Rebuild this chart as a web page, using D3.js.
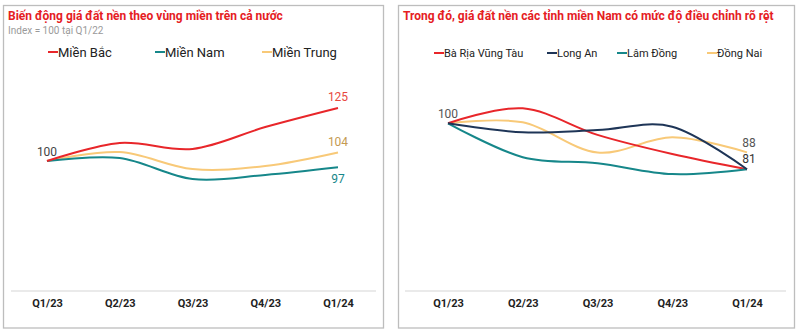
<!DOCTYPE html>
<html><head><meta charset="utf-8">
<script src="https://cdn.jsdelivr.net/npm/d3@7"></script>
<style>body{margin:0;background:#fff}svg{display:block;font-family:Roboto,"Noto Sans",sans-serif}</style>
</head><body><svg id="c" width="800" height="335"></svg>
<script>
const quarters = ["Q1/23","Q2/23","Q3/23","Q4/23","Q1/24"];
const leftSeriesNames = ["Miền Bắc","Miền Nam","Miền Trung"];
const mienBac   = [100, 108.5, 105.7, 116, 125];
const mienNam   = [100, 101.4, 91.5, 93.4, 97];
const mienTrung = [100, 104.2, 96.2, 97.6, 104];
const rightSeriesNames = ["Bà Rịa Vũng Tàu","Long An","Lâm Đồng","Đồng Nai"];
const baRiaVungTau = [100, 106.2, 95.2, 87.3, 81];
const longAn       = [100, 96.3, 97.2, 98.6, 81];
const lamDong      = [100, 86.0, 83.5, 79.0, 81];
const dongNai      = [100, 100.4, 87.9, 94.2, 88];
const leftTitle = "Biến động giá đất nền theo vùng miền trên cả nước";
const leftSubtitle = "Index = 100 tại Q1/22";
const rightTitle = "Trong đó, giá đất nền các tỉnh miền Nam có mức độ điều chỉnh rõ rệt";

const C = {red:"#e8262a", teal:"#16878a", yellow:"#f8c978", navy:"#1e3557"};
const svg = d3.select("#c");

function panel(x0, x1){
  svg.append("rect").attr("x",x0).attr("y",5.5).attr("width",x1-x0).attr("height",322.5)
    .attr("fill","#fff").attr("stroke","#bdbdbd").attr("stroke-width",1.3);
}
panel(3.5, 383.5);
panel(398.5, 794.5);

function drawChart(opt){
  const g = svg.append("g");
  const x = d3.scalePoint().domain(quarters).range(opt.xr);
  const y = d3.scaleLinear().domain(opt.yd).range(opt.yr);
  g.append("text").attr("x",opt.tx).attr("y",20).attr("fill","#e5201f")
    .attr("font-size",12).attr("font-weight",700).text(opt.title);
  if(opt.sub) g.append("text").attr("x",opt.tx).attr("y",34).attr("fill","#9a9a9a")
    .attr("font-size",10).text(opt.sub);
  opt.series.forEach((s,i)=>{
    const lx = opt.legX[i];
    g.append("line").attr("x1",lx).attr("x2",lx+10).attr("y1",opt.legY).attr("y2",opt.legY)
      .attr("stroke",s.color).attr("stroke-width",2);
    g.append("text").attr("x",lx+10).attr("y",opt.legY).attr("dy","0.35em")
      .attr("font-size",opt.legFs).attr("fill","#222").text(s.name);
  });
  g.append("line").attr("x1",opt.ax[0]).attr("x2",opt.ax[1]).attr("y1",291).attr("y2",291)
    .attr("stroke","#e3e3e3").attr("stroke-width",1.5);
  const axis = d3.axisBottom(x).tickSize(0).tickPadding(0);
  const ag = g.append("g").attr("transform","translate(0,299)").call(axis);
  ag.select(".domain").remove();
  ag.selectAll("text").attr("font-size",11).attr("font-weight",700).attr("fill","#222")
    .attr("font-family","Roboto, sans-serif").attr("dy","0.71em");
  const line = d3.line().x((d,i)=>x(quarters[i])).y(d=>y(d)).curve(d3.curveCardinal.tension(0));
  opt.drawOrder.forEach(i=>{
    const s = opt.series[i];
    g.append("path").attr("d",line(s.values)).attr("fill","none")
      .attr("stroke",s.color).attr("stroke-width",2);
  });
  opt.labels.forEach(l=>{
    const s = opt.series[l.s];
    g.append("text").attr("x",x(quarters[l.i])+l.dx).attr("y",y(s.values[l.i])+l.dy)
      .attr("text-anchor","middle").attr("dy","0.35em").attr("font-size",12)
      .attr("fill",l.color).text(Math.round(s.values[l.i]));
  });
}

drawChart({
  title:leftTitle, sub:leftSubtitle, tx:8,
  xr:[47,338], yd:[80,130], yr:[203.4,97.4], ax:[11,376],
  series:[{name:leftSeriesNames[0],values:mienBac,color:C.red},
          {name:leftSeriesNames[1],values:mienNam,color:C.teal},
          {name:leftSeriesNames[2],values:mienTrung,color:C.yellow}],
  legX:[48,155,262], legY:52, legFs:13,
  drawOrder:[2,1,0],
  labels:[{s:0,i:0,dx:0,dy:-9,color:"#444"},
          {s:0,i:4,dx:0,dy:-11,color:"#e8473e"},
          {s:2,i:4,dx:0,dy:-11,color:"#c49a52"},
          {s:1,i:4,dx:0,dy:11,color:"#16878a"}]
});

drawChart({
  title:rightTitle, sub:null, tx:403,
  xr:[448,747], yd:[70,110], yr:[195.9,99.1], ax:[405,786],
  series:[{name:rightSeriesNames[0],values:baRiaVungTau,color:C.red},
          {name:rightSeriesNames[1],values:longAn,color:C.navy},
          {name:rightSeriesNames[2],values:lamDong,color:C.teal},
          {name:rightSeriesNames[3],values:dongNai,color:C.yellow}],
  legX:[434,547,617,707], legY:53, legFs:11,
  drawOrder:[3,0,2,1],
  labels:[{s:0,i:0,dx:0,dy:-10,color:"#555"},
          {s:3,i:4,dx:2,dy:-10,color:"#555"},
          {s:1,i:4,dx:2,dy:-10,color:"#333"}]
});
</script></body></html>
